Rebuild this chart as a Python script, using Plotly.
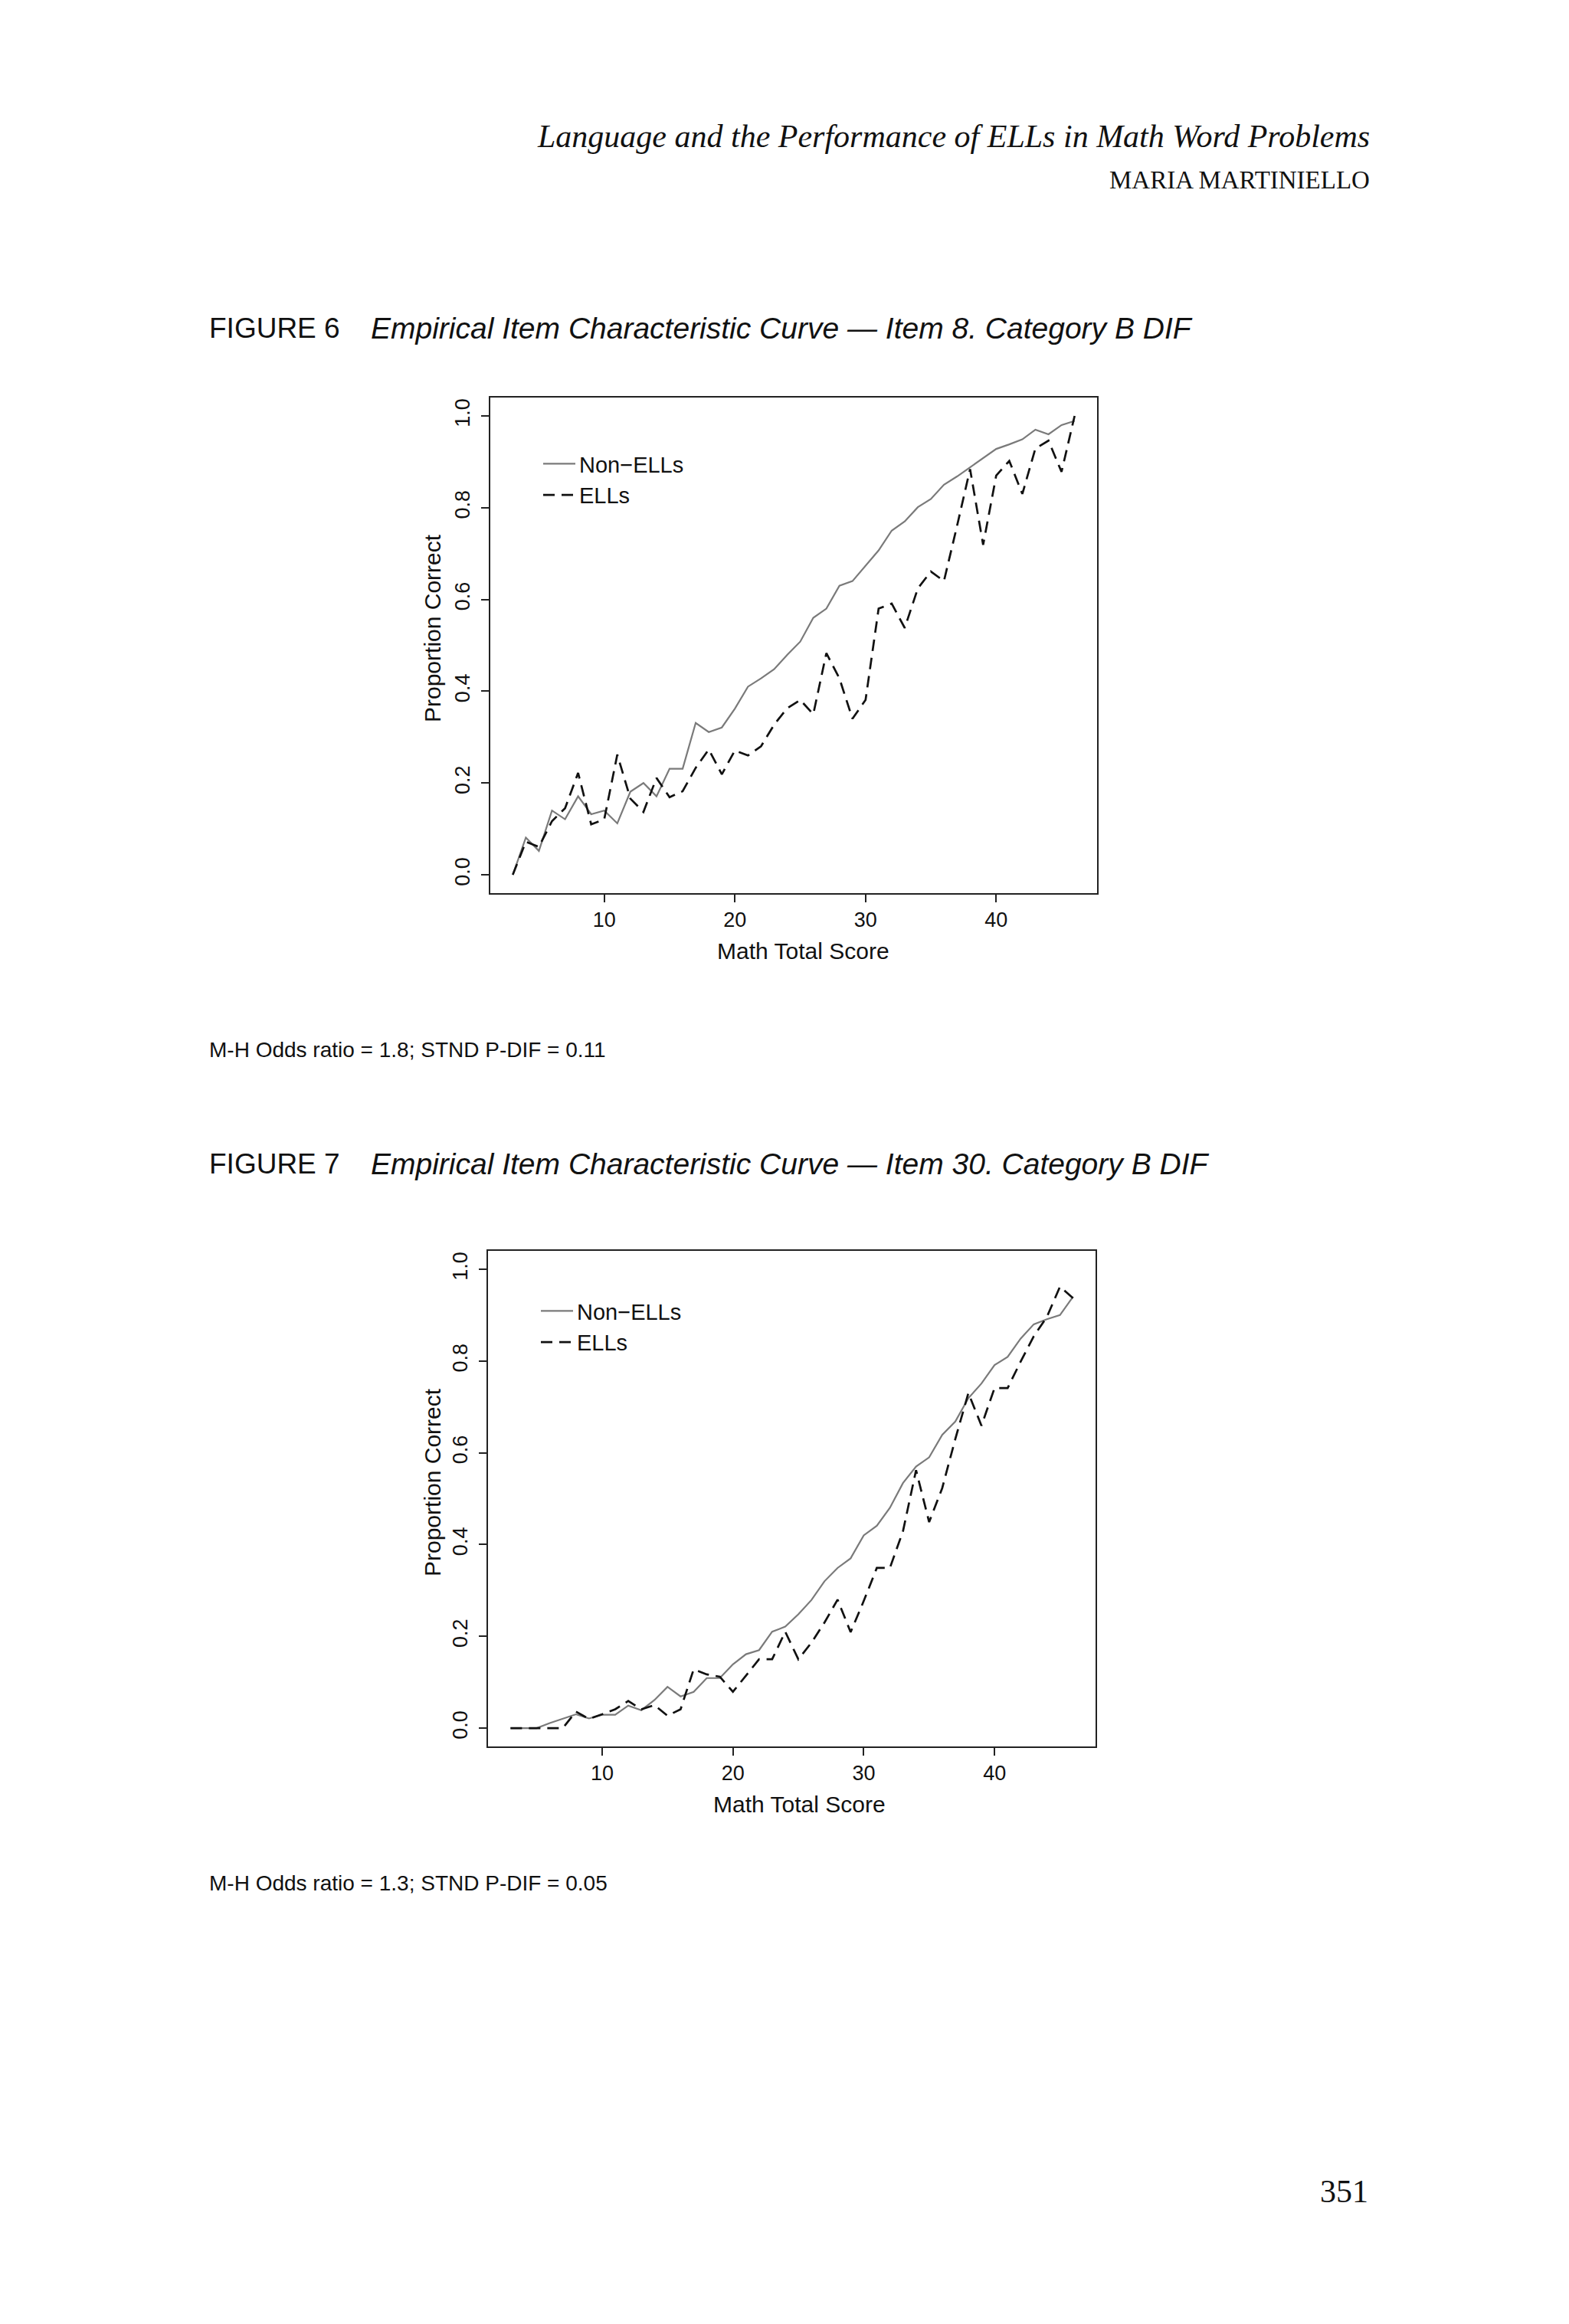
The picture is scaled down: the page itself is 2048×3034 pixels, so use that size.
import plotly.graph_objects as go

# math total score (x axis), shared by both figures
scores = [3, 4, 5, 6, 7, 8, 9, 10, 11, 12, 13, 14, 15, 16, 17, 18, 19, 20, 21, 22,
          23, 24, 25, 26, 27, 28, 29, 30, 31, 32, 33, 34, 35, 36, 37, 38, 39, 40,
          41, 42, 43, 44, 45, 46]

# Figure 6 - item 8
item8_non_ells = [0.0, 0.081, 0.052, 0.140, 0.121, 0.171, 0.132, 0.140, 0.112, 0.181,
                  0.200, 0.171, 0.231, 0.231, 0.331, 0.311, 0.321, 0.362, 0.410, 0.428,
                  0.448, 0.479, 0.508, 0.560, 0.580, 0.630, 0.640, 0.674, 0.707, 0.750,
                  0.770, 0.801, 0.819, 0.850, 0.868, 0.888, 0.908, 0.928, 0.938, 0.949,
                  0.970, 0.960, 0.980, 0.989]
item8_ells = [0.0, 0.072, 0.061, 0.117, 0.145, 0.222, 0.110, 0.121, 0.262, 0.166,
              0.137, 0.211, 0.169, 0.182, 0.233, 0.273, 0.219, 0.271, 0.260, 0.280,
              0.327, 0.363, 0.381, 0.350, 0.483, 0.428, 0.340, 0.381, 0.580, 0.591,
              0.538, 0.624, 0.661, 0.640, 0.760, 0.884, 0.719, 0.870, 0.902, 0.830,
              0.929, 0.946, 0.878, 1.0]

# Figure 7 - item 30
item30_non_ells = [0.0, 0.0, 0.0, 0.011, 0.021, 0.030, 0.021, 0.029, 0.029, 0.049,
                   0.039, 0.061, 0.090, 0.069, 0.079, 0.109, 0.109, 0.139, 0.161, 0.170,
                   0.210, 0.221, 0.248, 0.279, 0.320, 0.349, 0.370, 0.420, 0.441, 0.480,
                   0.534, 0.570, 0.590, 0.639, 0.668, 0.719, 0.751, 0.791, 0.809, 0.849,
                   0.880, 0.891, 0.900, 0.940]
item30_ells = [0.0, 0.0, 0.0, 0.0, 0.0, 0.036, 0.020, 0.030, 0.041, 0.059,
               0.041, 0.050, 0.027, 0.041, 0.128, 0.117, 0.112, 0.079, 0.114, 0.150,
               0.150, 0.210, 0.150, 0.186, 0.230, 0.280, 0.209, 0.277, 0.349, 0.349,
               0.429, 0.562, 0.449, 0.523, 0.630, 0.730, 0.659, 0.741, 0.741, 0.799,
               0.854, 0.896, 0.962, 0.937]

y_ticks = [0.0, 0.2, 0.4, 0.6, 0.8, 1.0]
x_ticks = [10, 20, 30, 40]

W, H = 2048, 3034
SANS = "Liberation Sans"
SERIF = "Liberation Serif"


def px(x):
    return x / W


def py(y):
    return 1 - y / H


fig = go.Figure()

gray_line = dict(color="#7a7a7a", width=2.2)
dash_line = dict(color="#111111", width=2.7, dash="15px,9px")

# figure 6 traces
fig.add_trace(go.Scatter(x=scores, y=item8_non_ells, mode="lines", name="Non\u2212ELLs",
                         line=gray_line, xaxis="x", yaxis="y", legend="legend"))
fig.add_trace(go.Scatter(x=scores, y=item8_ells, mode="lines", name="ELLs",
                         line=dash_line, xaxis="x", yaxis="y", legend="legend"))
# figure 7 traces
fig.add_trace(go.Scatter(x=scores, y=item30_non_ells, mode="lines", name="Non\u2212ELLs",
                         line=gray_line, xaxis="x2", yaxis="y2", legend="legend2"))
fig.add_trace(go.Scatter(x=scores, y=item30_ells, mode="lines", name="ELLs",
                         line=dash_line, xaxis="x2", yaxis="y2", legend="legend2"))

axis_common = dict(
    showline=True, linecolor="#222222", linewidth=2, mirror=True,
    showgrid=False, zeroline=False,
    ticks="outside", ticklen=10, tickwidth=2, tickcolor="#222222",
    tickfont=dict(family=SANS, size=27, color="#111111"),
)

xa = dict(axis_common, range=[1.28, 47.72], tickvals=x_ticks)
ya = dict(axis_common, range=[-0.04, 1.04], tickvals=y_ticks, tickformat=".1f",
          tickangle=-90, ticklabelstandoff=4)

leg = dict(font=dict(family=SANS, size=29, color="#111111"), bgcolor="rgba(0,0,0,0)",
           borderwidth=0, xanchor="left", yanchor="top", tracegroupgap=0,
           itemwidth=42)

fig.update_layout(
    width=W, height=H,
    margin=dict(l=0, r=0, t=0, b=0),
    paper_bgcolor="white", plot_bgcolor="white",
    xaxis=dict(xa, domain=[px(632), px(1424)], anchor="y"),
    yaxis=dict(ya, domain=[py(1158), py(511)], anchor="x"),
    xaxis2=dict(xa, domain=[px(629), px(1422)], anchor="y2"),
    yaxis2=dict(ya, domain=[py(2272), py(1625)], anchor="x2"),
    legend=dict(leg, x=px(696), y=py(572)),
    legend2=dict(leg, x=px(693), y=py(1678)),
    showlegend=True,
    hovermode=False,
)

ann = []


def text(x, y, s, size, family=SANS, xanchor="left", angle=0, color="#111111"):
    ann.append(dict(x=px(x), y=py(y), xref="paper", yref="paper", text=s,
                    showarrow=False, xanchor=xanchor, yanchor="middle",
                    textangle=angle, font=dict(family=family, size=size, color=color)))


# running header
text(1782, 170, "<i>Language and the Performance of ELLs in Math Word Problems</i>", 42,
     family=SERIF, xanchor="right")
text(1782, 227, "MARIA MARTINIELLO", 33, family=SERIF, xanchor="right")

# figure 6 text
text(263, 420, "FIGURE 6", 37)
text(474, 420, "<i>Empirical Item Characteristic Curve \u2014 Item 8. Category B DIF</i>", 39)
text(1040, 1233, "Math Total Score", 30, xanchor="center")
text(557, 812, "Proportion Correct", 30, xanchor="center", angle=-90)
text(263, 1362, "M-H Odds ratio = 1.8; STND P-DIF = 0.11", 28)

# figure 7 text
text(263, 1511, "FIGURE 7", 37)
text(474, 1511, "<i>Empirical Item Characteristic Curve \u2014 Item 30. Category B DIF</i>", 39)
text(1035, 2347, "Math Total Score", 30, xanchor="center")
text(557, 1927, "Proportion Correct", 30, xanchor="center", angle=-90)
text(263, 2450, "M-H Odds ratio = 1.3; STND P-DIF = 0.05", 28)

# page number
text(1746, 2853, "351", 42, family=SERIF, xanchor="center")

fig.update_layout(annotations=ann)

fig.write_html("out.html")
